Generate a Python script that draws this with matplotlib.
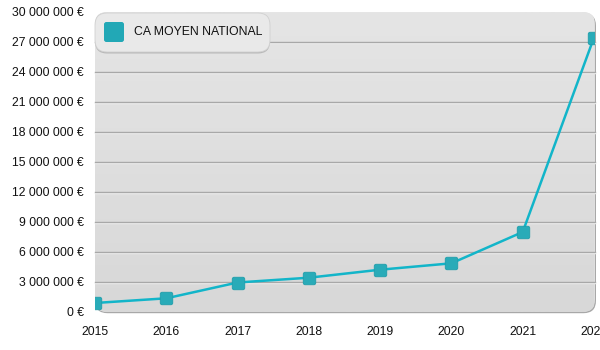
import numpy as np
import matplotlib
matplotlib.use("Agg")
import matplotlib.pyplot as plt
from matplotlib.patches import FancyBboxPatch
from matplotlib.path import Path
import matplotlib.transforms as mtransforms
from matplotlib.ticker import FuncFormatter

years = [2015, 2016, 2017, 2018, 2019, 2020, 2021, 2022]
values = [900000, 1370000, 2950000, 3430000, 4230000, 4870000, 8000000, 27450000]
series_label = "CA MOYEN NATIONAL"
y_ticks = list(range(0, 30000001, 3000000))

plt.rcParams['font.family'] = ['Liberation Sans', 'DejaVu Sans']

W, H = 600, 350
fig = plt.figure(figsize=(6, 3.5), dpi=100)
ax = fig.add_axes([95 / W, (H - 312) / H, (594 - 95) / W, (312 - 12) / H])
ax.set_xlim(2015, 2022)
ax.set_ylim(0, 30000000)
ax.patch.set_visible(False)
for s in ax.spines.values():
    s.set_visible(False)

# background: rounded panel with gradient + shadow
shadow = FancyBboxPatch((0, 0), 1.004, 1.0, boxstyle="round,pad=0,rounding_size=0.025",
                        transform=ax.transAxes, facecolor='#a8a8a8', edgecolor='none',
                        zorder=0, clip_on=False, mutation_aspect=1.66)
shadow.set_transform(mtransforms.offset_copy(ax.transAxes, fig=fig, x=0, y=-1.2, units='dots'))
ax.add_patch(shadow)
panel = FancyBboxPatch((0, 0), 1.002, 1.0, boxstyle="round,pad=0,rounding_size=0.025",
                       transform=ax.transAxes, facecolor='#dedede', edgecolor='none',
                       zorder=0.5, clip_on=False, mutation_aspect=1.66)
ax.add_patch(panel)
grad = np.linspace(0, 1, 256).reshape(-1, 1)
im = ax.imshow(grad, cmap=matplotlib.colors.LinearSegmentedColormap.from_list('g', ['#e5e5e5', '#d8d8d8']),
               extent=[0, 1.002, 0, 1], origin='upper', transform=ax.transAxes, aspect='auto',
               zorder=0.6, clip_on=True)
im.set_clip_path(panel)

# gridlines (embossed)
off = mtransforms.offset_copy(ax.transData, fig=fig, x=0, y=-1, units='dots')
for t in y_ticks[1:-1]:
    ax.plot([2015, 2022.02], [t, t], color='#f2f2f2', lw=1, zorder=1, transform=off, clip_on=False)
    ax.plot([2015, 2022.02], [t, t], color='#a8a8a8', lw=1, zorder=1.1, clip_on=False)

# rounded square marker
def rounded_square(rr=0.25):
    verts, codes = [], []
    a = 1.0
    b = a - rr
    verts.append((-b, -a)); codes.append(Path.MOVETO)
    seq = [((b, -a), (a, -a), (a, -b)),
           ((a, b), (a, a), (b, a)),
           ((-b, a), (-a, a), (-a, b)),
           ((-a, -b), (-a, -a), (-b, -a))]
    for p0, c, p1 in seq:
        verts += [p0, c, p1]
        codes += [Path.LINETO, Path.CURVE3, Path.CURVE3]
    verts.append((-b, -a)); codes.append(Path.CLOSEPOLY)
    return Path(verts, codes)

mk = rounded_square(0.3)
ax.plot(years, values, color='#12b5c9', lw=1.8, zorder=3, clip_on=True)
ax.plot(years, values, linestyle='none', marker=mk, markersize=12.5 * 72 / 100,
        markerfacecolor='#29abb8', markeredgecolor='#1f9eab', markeredgewidth=0.6,
        zorder=4, clip_on=True)

ax.set_yticks(y_ticks)
ax.yaxis.set_major_formatter(FuncFormatter(lambda v, p: (f"{int(v):,}".replace(',', ' ') + " €")))
ax.set_xticks(years)
ax.set_xticklabels([str(y) for y in years])
ax.tick_params(axis='both', length=0, labelsize=8.8, colors='#111111')
ax.tick_params(axis='y', pad=8)
ax.tick_params(axis='x', pad=10)

# legend (manual)
lx0, ly0, lw_, lh_ = 95, 52, 175, 39
lshadow = FancyBboxPatch((lx0 / W, (H - ly0 - 1.5) / H), lw_ / W, lh_ / H,
                         boxstyle="round,pad=0,rounding_size=0.02", transform=fig.transFigure,
                         facecolor='#b8b8b8', edgecolor='none', zorder=5, clip_on=False,
                         mutation_aspect=1.71)
fig.patches.append(lshadow)
lbox = FancyBboxPatch((lx0 / W, (H - ly0) / H), lw_ / W, lh_ / H,
                      boxstyle="round,pad=0,rounding_size=0.02", transform=fig.transFigure,
                      facecolor='#e9e9e9', edgecolor='#d0d0d0', lw=0.6, zorder=6, clip_on=False,
                      mutation_aspect=1.71)
fig.patches.append(lbox)
sq = FancyBboxPatch((104 / W, (H - 42) / H), 20 / W, 20 / H,
                    boxstyle="round,pad=0,rounding_size=0.004", transform=fig.transFigure,
                    facecolor='#22a8b6', edgecolor='none', zorder=7, mutation_aspect=1.71)
fig.patches.append(sq)
fig.text(134 / W, (H - 32) / H, series_label, fontsize=8.8, color='#111111',
         ha='left', va='center', zorder=8)

fig.savefig('out.png', dpi=100)
